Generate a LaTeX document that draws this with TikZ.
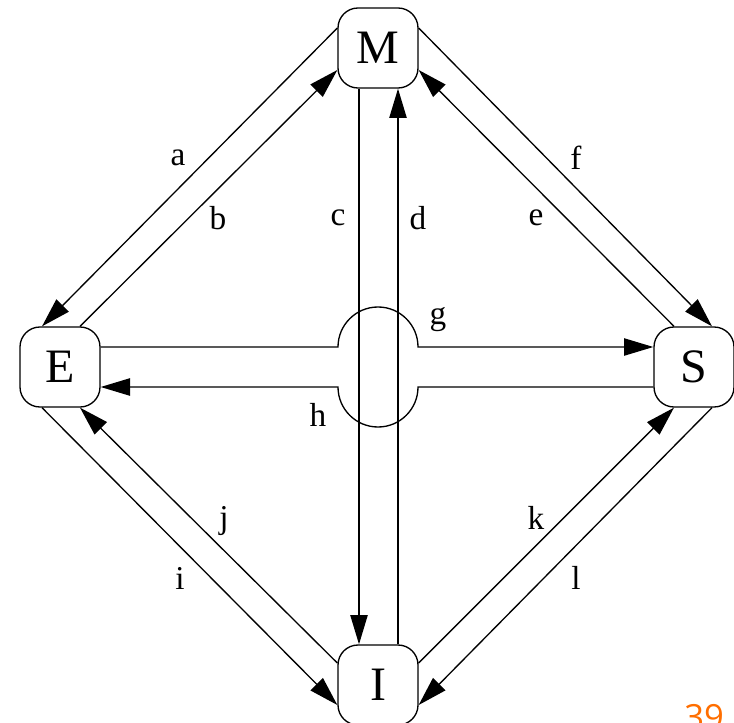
\documentclass[tikz,border=0pt]{standalone}
\usepackage{fontspec}
\setmainfont{Liberation Serif}
\newfontfamily\numfont{Open Sans}
\usetikzlibrary{arrows.meta,positioning}
\definecolor{slideorange}{RGB}{255,110,0}
\tikzset{
  stage/.style={rectangle, draw, rounded corners=15pt, minimum size=60pt, inner sep=0pt, line width=1pt, font=\fontsize{36}{36}\selectfont},
  lbl/.style={inner sep=0pt, font=\fontsize{25}{25}\selectfont},
  arr/.style={-{Triangle[length=22pt,width=13pt]}, line width=1pt}
}

\begin{document}
\begin{tikzpicture}[x=0.75pt, y=0.75pt]
\useasboundingbox (0,0) rectangle (734,722);
\node[stage] (M) at (378,674) {M};
\node[stage] (E) at (60,355) {E};
\node[stage] (S) at (694,355) {S};
\node[stage] (I) at (378,37) {I};
\coordinate (X) at (M |- E);

% diagonals
\draw[arr] ([yshift=15pt]M.west) -- ([xshift=-13.5pt]E.north);
\draw[arr] ([xshift=15pt]E.north) -- ([yshift=-16.5pt]M.west);
\draw[arr] ([yshift=15pt]M.east) -- ([xshift=13.5pt]S.north);
\draw[arr] ([xshift=-15pt]S.north) -- ([yshift=-16.5pt]M.east);
\draw[arr] ([xshift=-13.5pt]E.south) -- ([yshift=-15pt]I.west);
\draw[arr] ([yshift=16.5pt]I.west) -- ([xshift=15pt]E.south);
\draw[arr] ([yshift=16.5pt]I.east) -- ([xshift=-15pt]S.south);
\draw[arr] ([xshift=13.5pt]S.south) -- ([yshift=-15pt]I.east);

% vertical pair
\draw[arr] ([xshift=-14.25pt]M.south) -- ([xshift=-14.25pt]I.north);
\draw[arr] ([xshift=15pt]I.north) -- ([xshift=15pt]M.south);

% horizontal pair, hopping over the verticals
\draw[arr] ([yshift=15pt]E.east) -- ([xshift=-30pt,yshift=15pt]X)
  arc[start angle=180, end angle=0, radius=30pt] -- ([yshift=15pt]S.west);
\draw[arr] ([yshift=-15pt]S.west) -- ([xshift=30pt,yshift=-15pt]X)
  arc[start angle=0, end angle=-180, radius=30pt] -- ([yshift=-15pt]E.east);

% labels
\node[lbl] (la) at (178,564) {a};
\node[lbl] (lb) at (218,504) {b};
\node[lbl] (lc) at (338,504) {c};
\node[lbl] (ld) at (418,504) {d};
\node[lbl] (le) at (536,504) {e};
\node[lbl] (lf) at (576,564) {f};
\node[lbl] (lg) at (438,402) {g};
\node[lbl] (lh) at (318,307) {h};
\node[lbl] (lj) at (224,201) {j};
\node[lbl] (li) at (180,144) {i};
\node[lbl] (lk) at (536,204) {k};
\node[lbl] (ll) at (576,144) {l};

\node[inner sep=0pt, anchor=north west, text=slideorange, font=\numfont\fontsize{26}{26}\selectfont] (num) at (684,18) {39};
\end{tikzpicture}
\end{document}
